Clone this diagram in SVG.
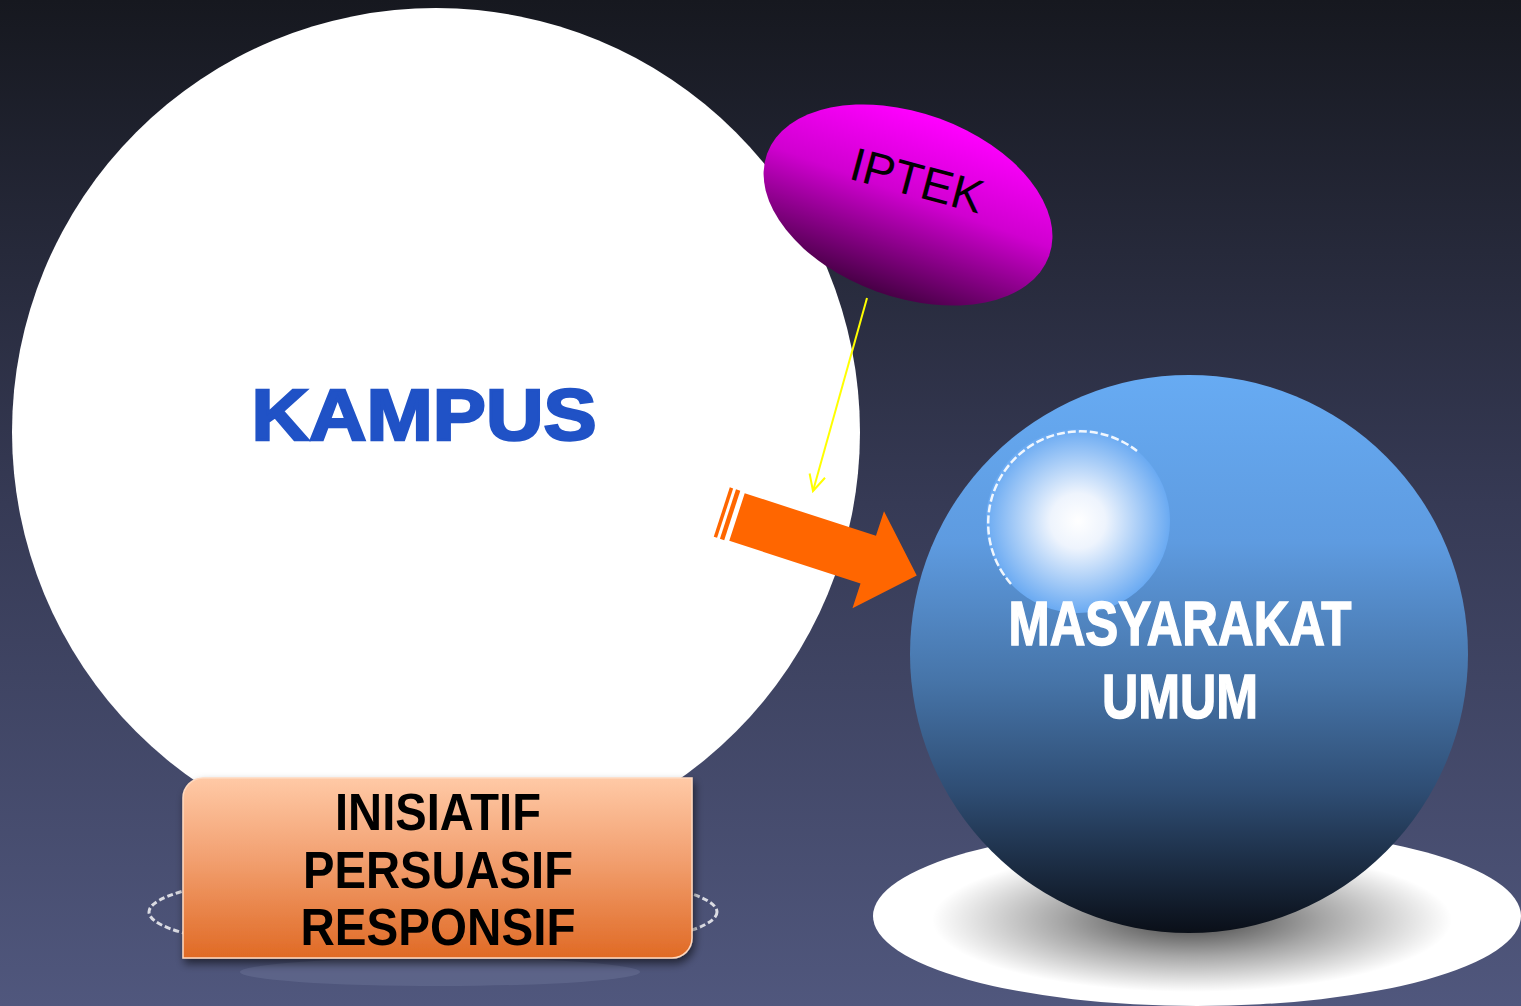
<svg xmlns="http://www.w3.org/2000/svg" width="1521" height="1006" viewBox="0 0 1521 1006">
<defs>
<linearGradient id="bg" x1="0" y1="0" x2="0" y2="1">
<stop offset="0" stop-color="#16181f"/>
<stop offset="0.5" stop-color="#363a55"/>
<stop offset="1" stop-color="#50577d"/>
</linearGradient>
<linearGradient id="mag" x1="0" y1="0" x2="0" y2="1">
<stop offset="0" stop-color="#ff00ff"/>
<stop offset="0.45" stop-color="#d000d0"/>
<stop offset="1" stop-color="#480046"/>
</linearGradient>
<linearGradient id="box" x1="0" y1="0" x2="0" y2="1">
<stop offset="0" stop-color="#ffc9a6"/>
<stop offset="0.45" stop-color="#f2a070"/>
<stop offset="1" stop-color="#e06a25"/>
</linearGradient>
<linearGradient id="sph" x1="0" y1="0" x2="0" y2="1">
<stop offset="0" stop-color="#67abf3"/>
<stop offset="0.3" stop-color="#5e9be0"/>
<stop offset="0.55" stop-color="#4674a8"/>
<stop offset="0.75" stop-color="#2e4c72"/>
<stop offset="1" stop-color="#0a0f18"/>
</linearGradient>
<radialGradient id="hl" cx="0.5" cy="0.5" r="0.5">
<stop offset="0" stop-color="#ffffff"/>
<stop offset="0.3" stop-color="#eef4fd"/>
<stop offset="1" stop-color="#6aaaf2"/>
</radialGradient>
<radialGradient id="shadow" cx="0.5" cy="0.5" r="0.5">
<stop offset="0" stop-color="#000" stop-opacity="0.75"/>
<stop offset="0.5" stop-color="#000" stop-opacity="0.35"/>
<stop offset="1" stop-color="#000" stop-opacity="0"/>
</radialGradient>
<filter id="ds" x="-10%" y="-10%" width="120%" height="130%">
<feDropShadow dx="2" dy="5" stdDeviation="4" flood-color="#000" flood-opacity="0.55"/>
</filter>
<marker id="vhead" viewBox="0 0 20 20" refX="18" refY="10" markerWidth="20" markerHeight="20" markerUnits="userSpaceOnUse" orient="auto">
<polyline points="2,2 18,10 2,18" fill="none" stroke="#ffff00" stroke-width="2"/>
</marker>
<style>
.bold{font-family:"Liberation Sans",Arial,sans-serif;font-weight:bold;}
.lbl{font-family:"Liberation Sans",Arial,sans-serif;}
</style>
</defs>
<rect width="1521" height="1006" fill="url(#bg)"/>

<g id="kampus">
<circle cx="436" cy="432" r="424" fill="#ffffff"/>
<text class="bold" x="424" y="440" font-size="72" fill="#2052c6" stroke="#2052c6" stroke-width="2.5" text-anchor="middle" textLength="345" lengthAdjust="spacingAndGlyphs">KAMPUS</text>
</g>

<g id="sikap">
<ellipse cx="433" cy="912" rx="284" ry="44" fill="none" stroke="#ffffff" stroke-width="3" stroke-dasharray="6 3" opacity="0.8"/>
<ellipse cx="440" cy="972" rx="200" ry="14" fill="#6a7296" opacity="0.5"/>
<path d="M203,778 H692 V938 A20,20 0 0 1 672,958 H183 V798 A20,20 0 0 1 203,778 Z" fill="url(#box)" stroke="#ffd9bf" stroke-width="1.5" filter="url(#ds)"/>
<text class="bold" x="438" y="830" font-size="51" fill="#000" text-anchor="middle" textLength="206" lengthAdjust="spacingAndGlyphs">INISIATIF</text>
<text class="bold" x="438" y="888" font-size="51" fill="#000" text-anchor="middle" textLength="270" lengthAdjust="spacingAndGlyphs">PERSUASIF</text>
<text class="bold" x="438" y="945" font-size="51" fill="#000" text-anchor="middle" textLength="275" lengthAdjust="spacingAndGlyphs">RESPONSIF</text>
</g>

<g id="masyarakat">
<ellipse cx="1197" cy="916" rx="324" ry="90" fill="#ffffff"/>
<ellipse cx="1192" cy="920" rx="260" ry="72" fill="url(#shadow)"/>
<circle cx="1189" cy="654" r="279" fill="url(#sph)"/>
<circle cx="1078" cy="521" r="92" fill="url(#hl)"/>
<path d="M1011,584 A92,92 0 0 1 1137,451" fill="none" stroke="#ffffff" stroke-width="2.5" stroke-dasharray="8 3" opacity="0.9"/>
<text class="bold" x="1180" y="645" font-size="63" fill="#ffffff" stroke="#ffffff" stroke-width="1.5" text-anchor="middle" textLength="343" lengthAdjust="spacingAndGlyphs">MASYARAKAT</text>
<text class="bold" x="1180" y="718" font-size="63" fill="#ffffff" stroke="#ffffff" stroke-width="1.5" text-anchor="middle" textLength="156" lengthAdjust="spacingAndGlyphs">UMUM</text>
</g>

<g id="iptek">
<ellipse cx="908" cy="205" rx="150" ry="92" transform="rotate(20 908 205)" fill="url(#mag)"/>
<text class="lbl" transform="translate(913,196) rotate(15)" x="0" y="0" font-size="47" fill="#000" text-anchor="middle">IPTEK</text>
</g>

<g id="connectors">
<line x1="867" y1="298" x2="813" y2="491" stroke="#ffff00" stroke-width="2" marker-end="url(#vhead)"/>
<g transform="translate(737,517) rotate(18)" fill="#ff6600">
<polygon points="-16,-26 -12.5,-26 -12.5,26 -16,26"/>
<polygon points="-9.5,-26 -5,-26 -5,26 -9.5,26"/>
<polygon points="0,-25 138,-25 138,-51 189,0 138,51 138,25 0,25"/>
</g>
</g>
</svg>
